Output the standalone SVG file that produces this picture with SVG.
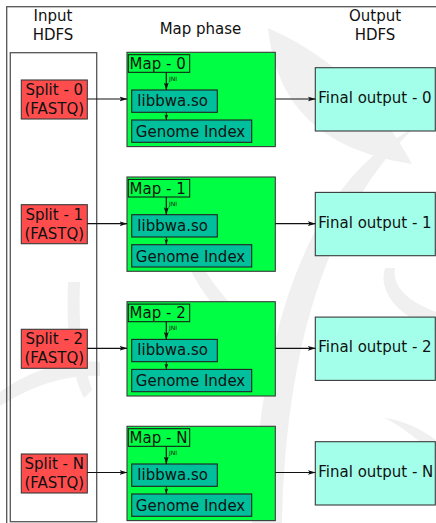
<svg xmlns="http://www.w3.org/2000/svg" width="436" height="523" viewBox="0 0 436 523">
  <style>
    text { font-family: "DejaVu Sans", "Liberation Sans", sans-serif; fill: #111; }
    .lbl { font-size: 15px; }
    .jni { font-size: 6px; }
    .mid { text-anchor: middle; }
    .split { fill: #ff4d4d; stroke: #3a3a3a; stroke-width: 1.1; }
    .map { fill: #00ff44; stroke: #3a3a3a; stroke-width: 1.1; }
    .tag { fill: #00ff44; stroke: #111; stroke-width: 1; }
    .lib { fill: #00bf9c; stroke: #222; stroke-width: 1.1; }
    .out { fill: #a3ffea; stroke: #3a3a3a; stroke-width: 1.1; }
    .frame { fill: none; stroke: #555; stroke-width: 1.3; }
    .wm { fill: #f0f0f0; }
    .edge { fill: none; stroke: #111; stroke-width: 1.2; }
    .edge-s { fill: none; stroke: #111; stroke-width: 0.9; }
  </style>
  <defs>
    <marker id="arr" viewBox="0 0 8 6" refX="7.5" refY="3" markerWidth="8" markerHeight="6" markerUnits="userSpaceOnUse" orient="auto">
      <path d="M0,0.6 L8,3 L0,5.4 L1.8,3 Z" fill="#111"/>
    </marker>
    <marker id="arr-s" viewBox="0 0 8 6" refX="7.5" refY="3" markerWidth="6" markerHeight="4.5" markerUnits="userSpaceOnUse" orient="auto">
      <path d="M0,0.6 L8,3 L0,5.4 L1.8,3 Z" fill="#111"/>
    </marker>
  </defs>

  <rect width="436" height="523" fill="#ffffff"/>

  <!-- faint background emblem -->
  <g id="emblem">
    <path class="wm" d="M268,28 C276,105 320,150 412,164 C385,115 345,62 268,28 Z"/>
    <path class="wm" d="M414,128 C335,168 262,275 252,523 L282,523 C286,330 335,205 414,128 Z"/>
    <path class="wm" d="M186,262 C205,300 232,330 262,362 L268,340 C240,315 215,290 200,262 Z"/>
    <path class="wm" d="M68,282 C66,330 70,370 84,398 L92,390 C82,360 78,325 80,282 Z"/>
    <path class="wm" d="M0,392 C30,370 70,358 100,362 L100,376 C70,374 35,384 0,406 Z"/>
    <path class="wm" d="M385,268 C378,290 395,315 436,330 L436,312 C405,300 392,285 395,268 Z"/>
    <path class="wm" d="M384,418 C400,425 420,440 436,458 L436,440 C420,428 402,420 384,418 Z"/>
  </g>

  <!-- outer frame and input column -->
  <rect class="frame" x="6.7" y="6.7" width="440" height="530"/>
  <rect id="input-hdfs" class="frame" x="10.3" y="52.7" width="86.4" height="469"/>

  <g id="headers">
    <text class="lbl mid" x="53" y="21">Input</text>
    <text class="lbl mid" x="53" y="39.5">HDFS</text>
    <text class="lbl mid" x="200.5" y="34">Map phase</text>
    <text class="lbl mid" x="375" y="21">Output</text>
    <text class="lbl mid" x="375" y="39.5">HDFS</text>
  </g>

  <!-- row 0 -->
  <g id="split-0"><rect class="split" x="21.3" y="80" width="66" height="39"/>
    <text class="lbl mid" x="54.3" y="95">Split - 0</text><text class="lbl mid" x="54.3" y="113.8">(FASTQ)</text></g>
  <g id="map-0">
    <rect class="map" x="127" y="52.3" width="148.3" height="94.3"/>
    <rect class="tag" x="128.3" y="54.7" width="61.4" height="17.6"/>
    <text class="lbl" x="129.6" y="69">Map - 0</text>
    <rect class="lib" x="131.7" y="90" width="85.6" height="22.3"/>
    <text class="lbl" x="137.3" y="106">libbwa.so</text>
    <rect class="lib" x="131.7" y="120" width="120" height="22.3"/>
    <text class="lbl" x="135.8" y="137">Genome Index</text>
    <text class="jni" x="169" y="81">JNI</text>
  </g>
  <g id="out-0"><rect class="out" x="315.3" y="67.7" width="120" height="63.3"/>
    <text class="lbl" x="318.3" y="103">Final output - 0</text></g>

  <!-- row 1 -->
  <g id="split-1"><rect class="split" x="21.3" y="204.7" width="66" height="39"/>
    <text class="lbl mid" x="54.3" y="219.7">Split - 1</text><text class="lbl mid" x="54.3" y="238.5">(FASTQ)</text></g>
  <g id="map-1">
    <rect class="map" x="127" y="177" width="148.3" height="94.3"/>
    <rect class="tag" x="128.3" y="179.4" width="61.4" height="17.6"/>
    <text class="lbl" x="129.6" y="193.7">Map - 1</text>
    <rect class="lib" x="131.7" y="214.7" width="85.6" height="22.3"/>
    <text class="lbl" x="137.3" y="230.7">libbwa.so</text>
    <rect class="lib" x="131.7" y="244.7" width="120" height="22.3"/>
    <text class="lbl" x="135.8" y="261.7">Genome Index</text>
    <text class="jni" x="169" y="205.7">JNI</text>
  </g>
  <g id="out-1"><rect class="out" x="315.3" y="192.4" width="120" height="63.3"/>
    <text class="lbl" x="318.3" y="227.7">Final output - 1</text></g>

  <!-- row 2 -->
  <g id="split-2"><rect class="split" x="21.3" y="329.3" width="66" height="39"/>
    <text class="lbl mid" x="54.3" y="344.3">Split - 2</text><text class="lbl mid" x="54.3" y="363.1">(FASTQ)</text></g>
  <g id="map-2">
    <rect class="map" x="127" y="301.7" width="148.3" height="94.3"/>
    <rect class="tag" x="128.3" y="304.1" width="61.4" height="17.6"/>
    <text class="lbl" x="129.6" y="318.4">Map - 2</text>
    <rect class="lib" x="131.7" y="339.4" width="85.6" height="22.3"/>
    <text class="lbl" x="137.3" y="355.4">libbwa.so</text>
    <rect class="lib" x="131.7" y="369.4" width="120" height="22.3"/>
    <text class="lbl" x="135.8" y="386.4">Genome Index</text>
    <text class="jni" x="169" y="330.4">JNI</text>
  </g>
  <g id="out-2"><rect class="out" x="315.3" y="317.1" width="120" height="63.3"/>
    <text class="lbl" x="318.3" y="352.4">Final output - 2</text></g>

  <!-- row N -->
  <g id="split-n"><rect class="split" x="21.3" y="454" width="66" height="39"/>
    <text class="lbl mid" x="54.3" y="469">Split - N</text><text class="lbl mid" x="54.3" y="487.8">(FASTQ)</text></g>
  <g id="map-n">
    <rect class="map" x="127" y="426.3" width="148.3" height="94.3"/>
    <rect class="tag" x="128.3" y="428.7" width="61.4" height="17.6"/>
    <text class="lbl" x="129.6" y="443">Map - N</text>
    <rect class="lib" x="131.7" y="464" width="85.6" height="22.3"/>
    <text class="lbl" x="137.3" y="480">libbwa.so</text>
    <rect class="lib" x="131.7" y="494" width="120" height="22.3"/>
    <text class="lbl" x="135.8" y="511">Genome Index</text>
    <text class="jni" x="169" y="455">JNI</text>
  </g>
  <g id="out-n"><rect class="out" x="315.3" y="441.7" width="120" height="63.3"/>
    <text class="lbl" x="318.3" y="477">Final output - N</text></g>

  <!-- connectors -->
  <g id="connectors">
    <path class="edge" marker-end="url(#arr)" d="M87.3,99 H127"/>
    <path class="edge" marker-end="url(#arr)" d="M275.3,99 H315.3"/>
    <path class="edge" marker-end="url(#arr)" d="M166.3,72.3 V90"/>
    <path class="edge-s" marker-end="url(#arr-s)" d="M166.3,112.3 V120"/>

    <path class="edge" marker-end="url(#arr)" d="M87.3,223.7 H127"/>
    <path class="edge" marker-end="url(#arr)" d="M275.3,223.7 H315.3"/>
    <path class="edge" marker-end="url(#arr)" d="M166.3,197 V214.7"/>
    <path class="edge-s" marker-end="url(#arr-s)" d="M166.3,237 V244.7"/>

    <path class="edge" marker-end="url(#arr)" d="M87.3,348.3 H127"/>
    <path class="edge" marker-end="url(#arr)" d="M275.3,348.3 H315.3"/>
    <path class="edge" marker-end="url(#arr)" d="M166.3,321.7 V339.4"/>
    <path class="edge-s" marker-end="url(#arr-s)" d="M166.3,361.7 V369.4"/>

    <path class="edge" marker-end="url(#arr)" d="M87.3,472.5 H127"/>
    <path class="edge" marker-end="url(#arr)" d="M275.3,472.5 H315.3"/>
    <path class="edge" marker-end="url(#arr)" d="M166.3,446.3 V464"/>
    <path class="edge-s" marker-end="url(#arr-s)" d="M166.3,486.3 V494"/>
  </g>
</svg>
